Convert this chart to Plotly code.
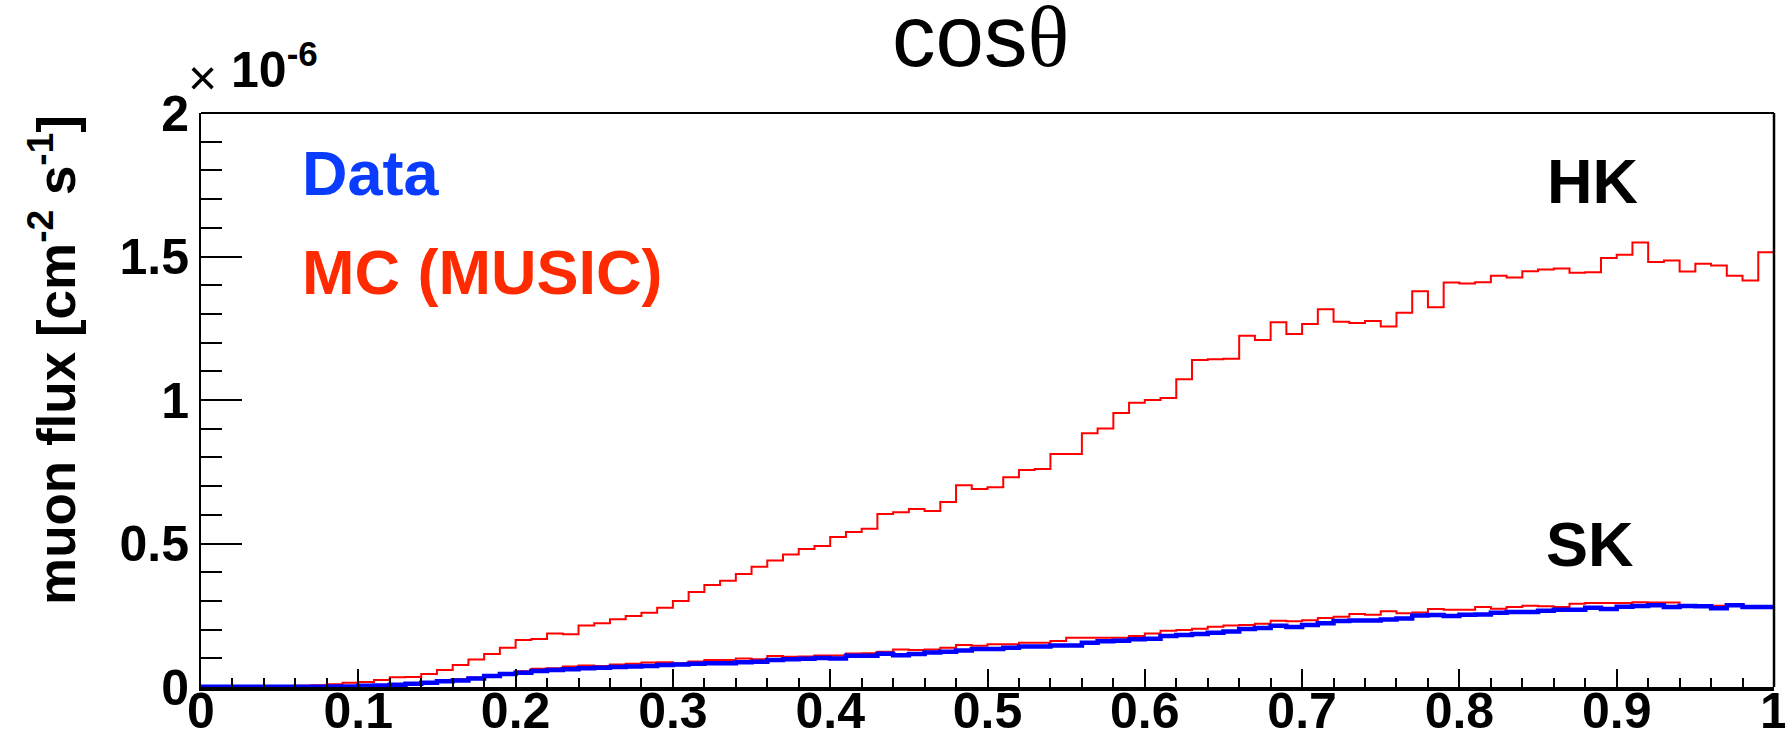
import plotly.graph_objects as go

# Muon flux vs cos(theta), 100 bins on [0, 1]; values in units of 1e-6 cm^-2 s^-1
bin_edges = [i / 100 for i in range(101)]

hk_mc = [
    0.000, 0.000, 0.001, 0.001, 0.002, 0.003, 0.004, 0.006, 0.010, 0.015,
    0.017, 0.024, 0.034, 0.035, 0.045, 0.059, 0.077, 0.096, 0.115, 0.137,
    0.164, 0.167, 0.186, 0.184, 0.214, 0.222, 0.236, 0.247, 0.259, 0.276,
    0.300, 0.331, 0.355, 0.370, 0.394, 0.419, 0.441, 0.462, 0.481, 0.491,
    0.523, 0.540, 0.551, 0.603, 0.609, 0.620, 0.613, 0.645, 0.703, 0.690,
    0.696, 0.731, 0.756, 0.760, 0.812, 0.812, 0.884, 0.901, 0.955, 0.990,
    1.000, 1.007, 1.072, 1.139, 1.142, 1.144, 1.224, 1.209, 1.271, 1.230,
    1.265, 1.316, 1.273, 1.268, 1.275, 1.256, 1.304, 1.379, 1.323, 1.409,
    1.406, 1.410, 1.433, 1.427, 1.449, 1.455, 1.458, 1.443, 1.445, 1.495,
    1.506, 1.549, 1.481, 1.486, 1.448, 1.475, 1.469, 1.433, 1.416, 1.515,
]

sk_mc = [
    0.001, 0.001, 0.001, 0.001, 0.001, 0.001, 0.001, 0.002, 0.003, 0.003,
    0.005, 0.007, 0.009, 0.012, 0.017, 0.022, 0.027, 0.033, 0.040, 0.048,
    0.055, 0.064, 0.065, 0.071, 0.075, 0.073, 0.078, 0.081, 0.085, 0.086,
    0.083, 0.089, 0.094, 0.094, 0.099, 0.097, 0.108, 0.105, 0.106, 0.110,
    0.110, 0.117, 0.118, 0.123, 0.131, 0.129, 0.131, 0.137, 0.146, 0.144,
    0.149, 0.149, 0.154, 0.154, 0.160, 0.172, 0.172, 0.172, 0.172, 0.178,
    0.186, 0.196, 0.199, 0.203, 0.210, 0.214, 0.216, 0.220, 0.231, 0.229,
    0.233, 0.240, 0.245, 0.254, 0.252, 0.264, 0.257, 0.260, 0.272, 0.269,
    0.269, 0.279, 0.273, 0.279, 0.283, 0.281, 0.279, 0.290, 0.293, 0.293,
    0.293, 0.295, 0.294, 0.294, 0.286, 0.286, 0.283, 0.284, 0.280, 0.279,
]

sk_data = [
    0.001, 0.001, 0.001, 0.001, 0.001, 0.001, 0.001, 0.001, 0.002, 0.002,
    0.004, 0.005, 0.008, 0.011, 0.015, 0.020, 0.023, 0.030, 0.038, 0.045,
    0.050, 0.056, 0.059, 0.062, 0.065, 0.067, 0.070, 0.071, 0.073, 0.077,
    0.078, 0.081, 0.083, 0.083, 0.086, 0.088, 0.094, 0.097, 0.098, 0.101,
    0.099, 0.109, 0.109, 0.116, 0.111, 0.115, 0.120, 0.123, 0.127, 0.132,
    0.132, 0.137, 0.141, 0.141, 0.145, 0.145, 0.154, 0.159, 0.161, 0.166,
    0.168, 0.178, 0.181, 0.185, 0.189, 0.193, 0.202, 0.206, 0.213, 0.209,
    0.216, 0.222, 0.230, 0.232, 0.232, 0.235, 0.239, 0.249, 0.251, 0.247,
    0.252, 0.253, 0.259, 0.261, 0.261, 0.266, 0.269, 0.269, 0.276, 0.272,
    0.280, 0.282, 0.285, 0.279, 0.282, 0.281, 0.274, 0.285, 0.279, 0.279,
]

W, H = 1785, 738
L, R, T, B = 201, 11, 113, 51
PW, PH = W - L - R, H - T - B
SANS = "Liberation Sans, Arial, Helvetica, sans-serif"
RED = "#ff0000"
BLUE = "#0000ff"


def px_x(x):
    return (x - L) / PW


def px_y(y):
    return (H - B - y) / PH


def step(values):
    # histogram outline: each bin held flat across its width
    return dict(x=bin_edges, y=list(values) + [values[-1]], mode="lines",
                line_shape="hv", hoverinfo="skip", showlegend=False)


fig = go.Figure()
fig.add_trace(go.Scatter(**step(hk_mc), line=dict(color=RED, width=2)))
fig.add_trace(go.Scatter(**step(sk_mc), line=dict(color=RED, width=2)))
fig.add_trace(go.Scatter(**step(sk_data), line=dict(color=BLUE, width=4.5)))

tickfont = dict(family=SANS, size=50, color="black", weight="bold")

fig.update_xaxes(
    range=[0, 1], dtick=0.1, ticks="inside", ticklen=18, tickwidth=2,
    tickcolor="black", tickfont=tickfont, showgrid=False, zeroline=False,
    showline=True, linecolor="black", linewidth=4, automargin=False,
    ticklabeloverflow="allow", ticklabelstandoff=-23,
    minor=dict(dtick=0.02, ticks="inside", ticklen=9, tickwidth=2,
               tickcolor="black", showgrid=False),
)
fig.update_yaxes(
    range=[0, 2], dtick=0.5, ticks="inside", ticklen=41, tickwidth=2,
    tickcolor="black", tickfont=tickfont, showgrid=False, zeroline=False,
    showline=True, linecolor="black", linewidth=2, automargin=False,
    ticklabeloverflow="allow",
    minor=dict(dtick=0.1, ticks="inside", ticklen=21, tickwidth=2,
               tickcolor="black", showgrid=False),
)

# top and right frame edges
fig.add_shape(type="line", xref="paper", yref="paper", x0=0, x1=1, y0=1, y1=1,
              line=dict(color="black", width=2))
fig.add_shape(type="line", xref="paper", yref="paper", x0=1, x1=1, y0=0, y1=1,
              line=dict(color="black", width=2.5))


def label(text, x, y, size, color="black", weight="bold", xanchor="left",
          yanchor="middle", family=SANS, angle=0):
    fig.add_annotation(text=text, xref="paper", yref="paper", x=px_x(x), y=px_y(y),
                       xanchor=xanchor, yanchor=yanchor, showarrow=False,
                       textangle=angle,
                       font=dict(family=family, size=size, color=color, weight=weight))


label('cos<span style="font-family:Liberation Serif, serif">θ</span>',
      980, 36, 87, weight="normal", xanchor="center")
label("×", 186, 78, 50, weight="normal")
label("<b>10<sup>-6</sup></b>", 229, 66, 50)
label("Data", 300, 173.5, 63, color="#0a3cff")
label("MC (MUSIC)", 300, 271.5, 63, color="#ff2a00")
label("HK", 1545, 180.5, 63)
label("SK", 1544, 543.5, 63)
label("muon flux [cm<sup>-2</sup> s<sup>-1</sup>]", 52, 113, 53,
      xanchor="center", yanchor="top", angle=-90)

fig.update_layout(
    width=W, height=H, margin=dict(l=L, r=R, t=T, b=B),
    paper_bgcolor="white", plot_bgcolor="white",
    font=dict(family=SANS, color="black"),
)

fig.write_html("out.html")
